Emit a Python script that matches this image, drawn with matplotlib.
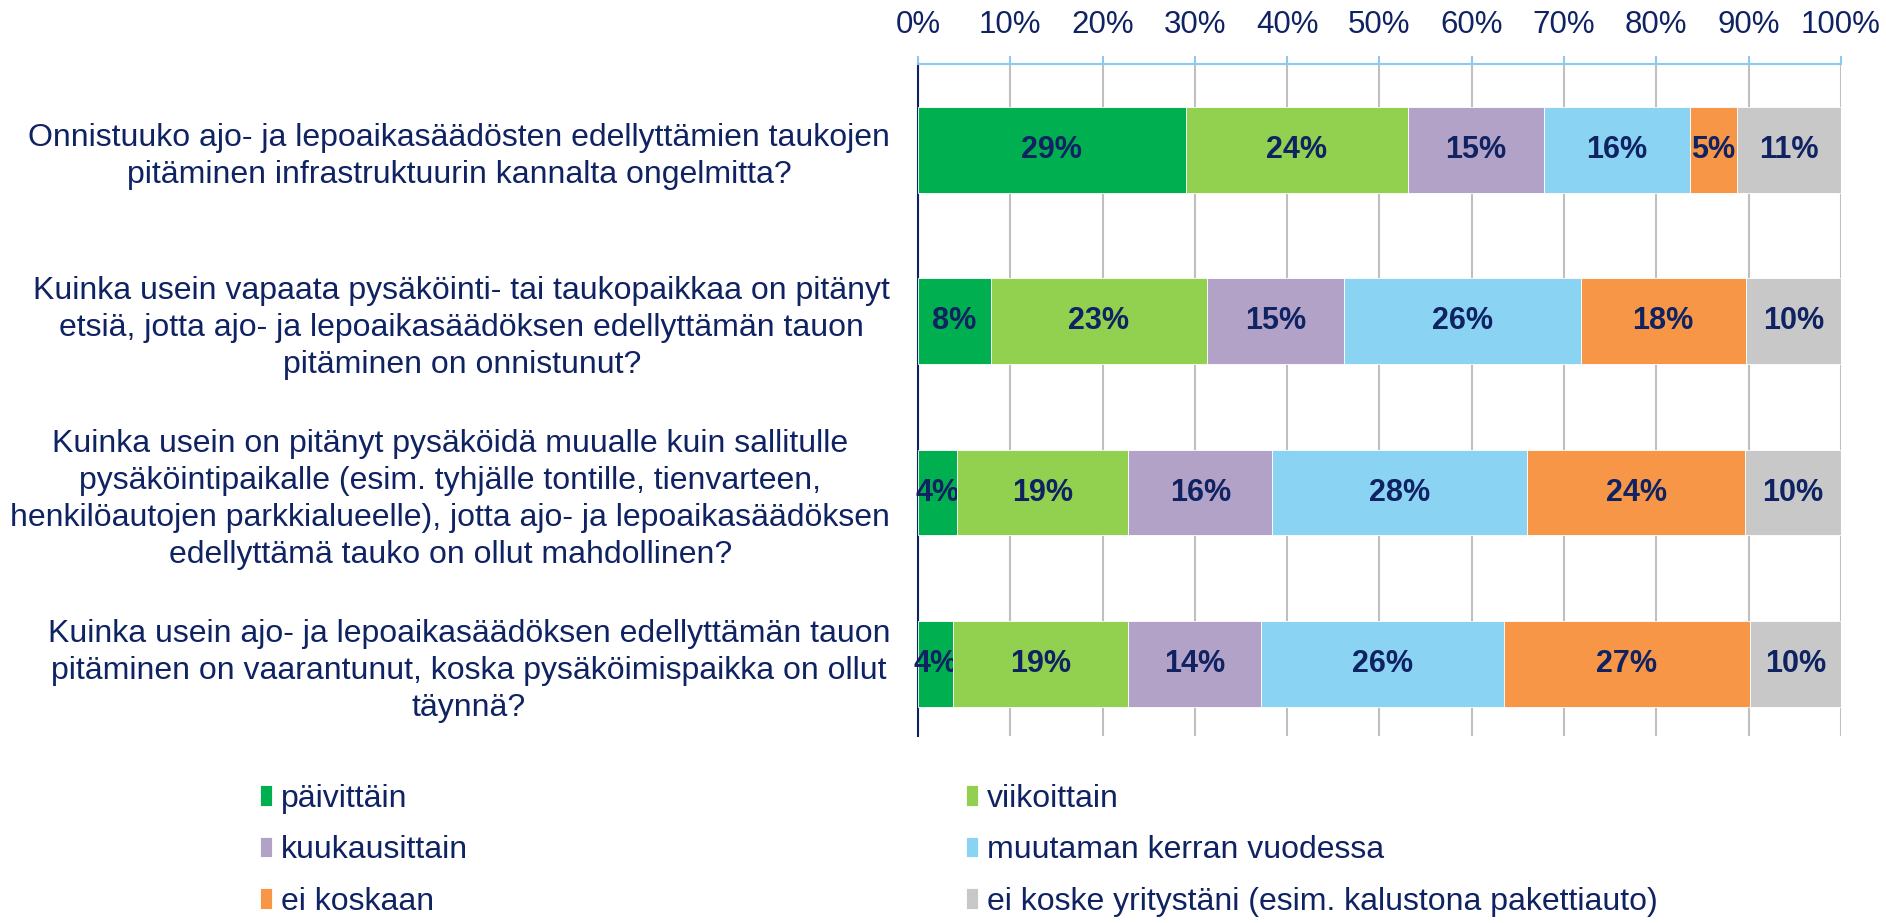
import matplotlib
matplotlib.use("Agg")
import matplotlib.pyplot as plt
import numpy as np

plt.rcParams['font.family'] = ['Liberation Sans', 'DejaVu Sans']

# Kysymykset (ylhäältä alas)
kysymykset = [
    "Onnistuuko ajo- ja lepoaikasäädösten edellyttämien taukojen\npitäminen infrastruktuurin kannalta ongelmitta?",
    "Kuinka usein vapaata pysäköinti- tai taukopaikkaa on pitänyt\netsiä, jotta ajo- ja lepoaikasäädöksen edellyttämän tauon\npitäminen on onnistunut?",
    "Kuinka usein on pitänyt pysäköidä muualle kuin sallitulle\npysäköintipaikalle (esim. tyhjälle tontille, tienvarteen,\nhenkilöautojen parkkialueelle), jotta ajo- ja lepoaikasäädöksen\nedellyttämä tauko on ollut mahdollinen?",
    "Kuinka usein ajo- ja lepoaikasäädöksen edellyttämän tauon\npitäminen on vaarantunut, koska pysäköimispaikka on ollut\ntäynnä?",
]

# Vastausten osuudet (%) kysymyksittäin
paivittain = [29.0, 7.9, 4.2, 3.8]
viikoittain = [24.1, 23.4, 18.6, 19.0]
kuukausittain = [14.7, 14.9, 15.6, 14.4]
muutaman_kerran = [15.8, 25.6, 27.6, 26.3]
ei_koskaan = [5.1, 17.9, 23.6, 26.6]
ei_koske = [11.3, 10.3, 10.4, 9.9]

sarjat = [paivittain, viikoittain, kuukausittain, muutaman_kerran, ei_koskaan, ei_koske]
nimet = ["päivittäin", "viikoittain", "kuukausittain", "muutaman kerran vuodessa",
         "ei koskaan", "ei koske yritystäni (esim. kalustona pakettiauto)"]
varit = ["#00B050", "#92D050", "#B3A2C7", "#8BD3F3", "#F79646", "#C8C8C8"]

x_ticks = [0, 10, 20, 30, 40, 50, 60, 70, 80, 90, 100]

navy = "#0F2262"

fig = plt.figure(figsize=(18.86, 9.23), dpi=100)
ax = fig.add_axes([0.4867, 0.2026, 0.4894, 0.728])

y = np.arange(len(kysymykset))
left = np.zeros(len(kysymykset))
palkit = []
for arvot, nimi, vari in zip(sarjat, nimet, varit):
    b = ax.barh(y, arvot, left=left, height=0.5, color=vari, label=nimi,
                edgecolor="white", linewidth=0.6, zorder=3)
    ax.bar_label(b, labels=[f"{v:.0f}%" for v in arvot], label_type="center",
                 color=navy, fontsize=22, fontweight="bold")
    palkit.append(b)
    left += np.array(arvot)

ax.set_xlim(0, 100)
ax.set_ylim(3.42, -0.5)
ax.set_yticks(y)
ax.set_yticklabels(kysymykset, fontsize=23, color=navy, ha="right",
                   multialignment="center", linespacing=1.3)
ax.tick_params(axis="y", length=0, pad=20)

ax.xaxis.tick_top()
ax.set_xticks(x_ticks)
ax.set_xticklabels([f"{t}%" for t in x_ticks], fontsize=22.5, color=navy)
ax.tick_params(axis="x", direction="out", length=6, width=1.5,
               color="#8DC8F0", pad=11)

ax.grid(axis="x", color="#BFBFBF", linewidth=1.5, zorder=0)
ax.set_axisbelow(True)

for s in ["right", "bottom"]:
    ax.spines[s].set_visible(False)
ax.spines["top"].set_color("#8DC8F0")
ax.spines["top"].set_linewidth(1.5)
ax.spines["left"].set_color(navy)
ax.spines["left"].set_linewidth(1.5)

# Selite kahdessa sarakkeessa
sarake1 = [palkit[0], palkit[2], palkit[4]]
sarake2 = [palkit[1], palkit[3], palkit[5]]
for kahvat, xpos in [(sarake1, 0.138), (sarake2, 0.512)]:
    leg = fig.legend(kahvat, [k.get_label() for k in kahvat],
                     loc="upper left", bbox_to_anchor=(xpos, 0.151),
                     frameon=False, fontsize=23, handlelength=0.38,
                     handleheight=0.62, handletextpad=0.28, labelspacing=0.68,
                     borderaxespad=0, borderpad=0)
    for t in leg.get_texts():
        t.set_color(navy)

fig.savefig("out.png", dpi=100)
